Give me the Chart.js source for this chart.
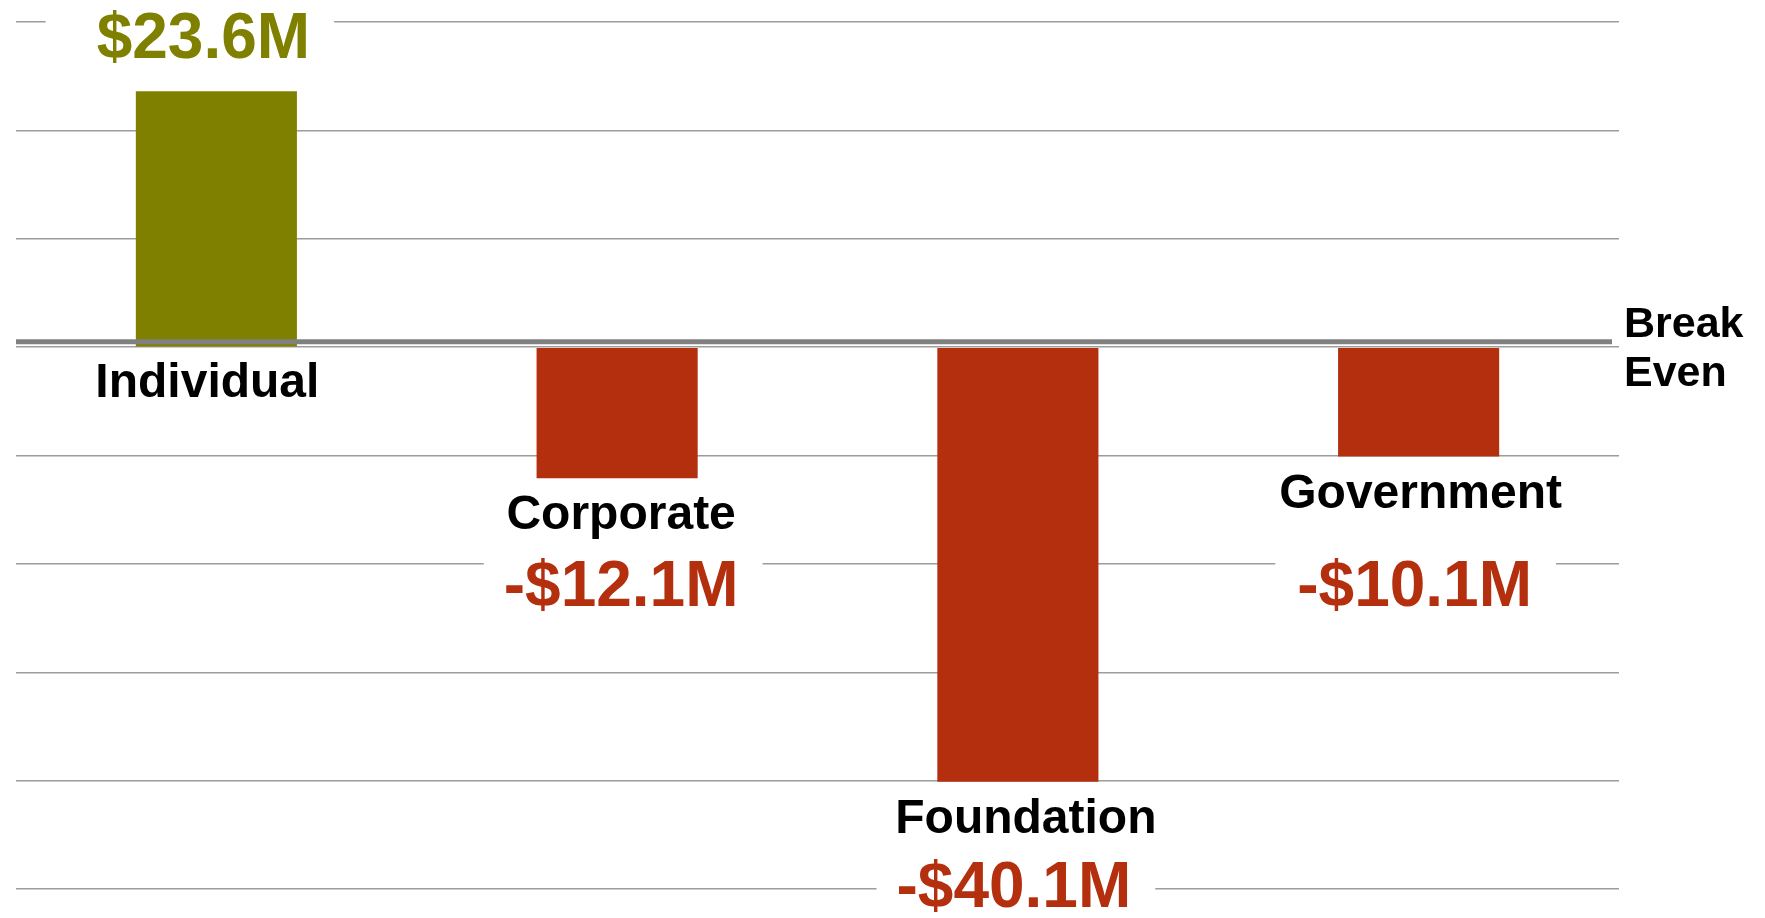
<!DOCTYPE html>
<html>
<head>
<meta charset="utf-8">
<script src="https://cdn.jsdelivr.net/npm/chart.js@4.4.1/dist/chart.umd.min.js"></script>
<style>
  html, body { margin: 0; padding: 0; background: #fff; }
  #wrap { width: 1765px; height: 918px; position: relative; }
</style>
</head>
<body>
<div id="wrap"><canvas id="netChart"></canvas></div>
<script>
// Datos (millones de dolares)
const categorias = ['Individual', 'Corporate', 'Foundation', 'Government'];
const valoresNetos = [23.6, -12.1, -40.1, -10.1];
const ejeMin = -50;
const ejeMax = 30;
const ejePaso = 10;

const OLIVA = '#808000';
const ROJO = '#b32f0e';
const FUENTE = '"Liberation Sans", Arial, Helvetica, sans-serif';

function formatoMonto(v) {
    return (v < 0 ? '-' : '') + '$' + Math.abs(v).toFixed(1) + 'M';
}

// Etiquetas de categoria, montos y linea de "Break Even"
const etiquetasPlugin = {
    id: 'etiquetas',
    afterDatasetsDraw(chart, args, opts) {
        const ctx = chart.ctx;
        const area = chart.chartArea;
        const y = chart.scales.y;
        const meta = chart.getDatasetMeta(0);
        const ceroY = y.getPixelForValue(0);

        ctx.save();
        // linea gruesa de punto de equilibrio
        ctx.strokeStyle = '#808080';
        ctx.lineWidth = 5;
        ctx.beginPath();
        ctx.moveTo(area.left, ceroY - 5.5);
        ctx.lineTo(area.right - 7, ceroY - 5.5);
        ctx.stroke();

        ctx.fillStyle = '#000';
        ctx.font = 'bold 43px ' + FUENTE;
        ctx.textAlign = 'left';
        ctx.textBaseline = 'alphabetic';
        ctx.fillText('Break', area.right + 5, ceroY - 10);
        ctx.fillText('Even', area.right + 5, ceroY + 39);

        meta.data.forEach((barra, i) => {
            const v = valoresNetos[i];
            const fin = v < 0 ? barra.y : barra.base;

            ctx.textAlign = 'center';
            ctx.fillStyle = '#000';
            ctx.font = 'bold 48px ' + FUENTE;
            ctx.fillText(categorias[i], barra.x + opts.nombreDx[i], fin + 51);

            const texto = formatoMonto(v);
            const vx = barra.x + opts.montoDx[i];
            const vy = y.getPixelForValue(opts.montoEn[i]);
            ctx.font = 'bold 64px ' + FUENTE;
            const w = ctx.measureText(texto).width;
            ctx.fillStyle = '#fff';
            ctx.fillRect(vx - w / 2 - opts.margenIzq[i], vy - 52, w + opts.margenIzq[i] + 24, 66);
            ctx.fillStyle = v < 0 ? ROJO : OLIVA;
            ctx.fillText(texto, vx, vy);
        });
        ctx.restore();
    }
};

const ctx = document.getElementById('netChart').getContext('2d');
new Chart(ctx, {
    type: 'bar',
    data: {
        labels: categorias,
        datasets: [{
            data: valoresNetos,
            backgroundColor: valoresNetos.map(v => v < 0 ? ROJO : OLIVA),
            borderWidth: 0,
            barPercentage: 0.402,
            categoryPercentage: 1
        }]
    },
    options: {
        responsive: true,
        maintainAspectRatio: false,
        animation: false,
        layout: { padding: { left: 16, right: 146, top: 22, bottom: 29 } },
        plugins: {
            legend: { display: false },
            tooltip: { enabled: false },
            // ubicacion de los textos respecto de cada barra
            etiquetas: {
                montoEn: [26.7, -23.9, -51.7, -23.9],
                nombreDx: [-9, 4, 8, 2],
                montoDx: [-13, 4, -4, -4],
                margenIzq: [51, 20, 20, 22]
            }
        },
        scales: {
            x: { display: false },
            y: {
                min: ejeMin,
                max: ejeMax,
                ticks: { display: false, stepSize: ejePaso },
                border: { display: false },
                grid: { color: '#9c9c9c', lineWidth: 1.5, drawTicks: false },
                afterFit: (s) => { s.width = 0; }
            }
        }
    },
    plugins: [etiquetasPlugin]
});
</script>
</body>
</html>
